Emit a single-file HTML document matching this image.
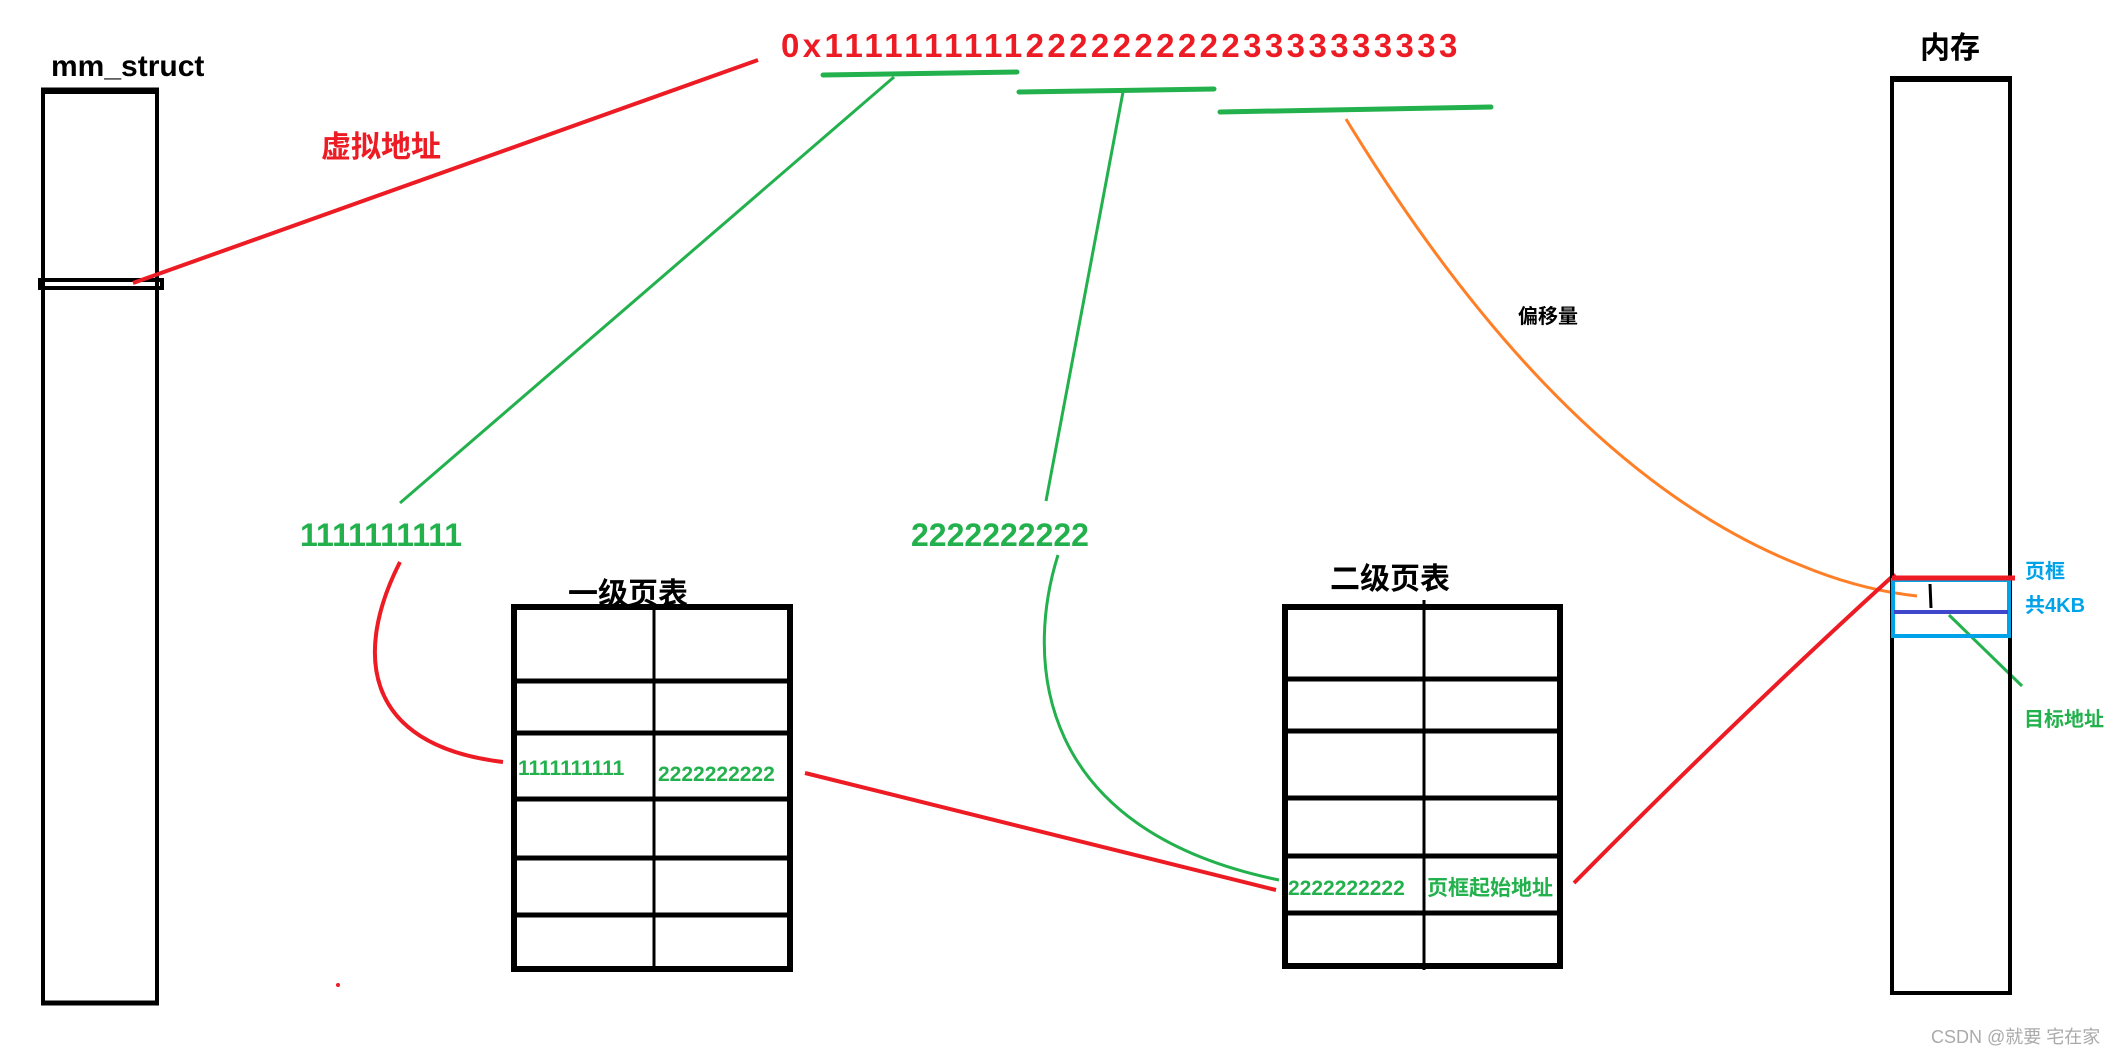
<!DOCTYPE html>
<html><head><meta charset="utf-8"><style>
html,body{margin:0;padding:0;background:#fff;}
svg{display:block;}
text{font-family:"Liberation Sans","Noto Sans CJK SC",sans-serif;font-weight:bold;}
</style></head><body>
<svg width="2122" height="1057" viewBox="0 0 2122 1057" xmlns="http://www.w3.org/2000/svg">
<!-- mm_struct -->
<text x="51" y="76" font-size="30" fill="#000">mm_struct</text>
<rect x="43" y="92" width="114" height="911" fill="none" stroke="#000" stroke-width="4"/>
<line x1="41" y1="90" x2="159" y2="90" stroke="#000" stroke-width="5"/>
<rect x="40" y="280" width="122" height="8" fill="none" stroke="#000" stroke-width="4"/>
<line x1="41" y1="1003" x2="159" y2="1003" stroke="#000" stroke-width="5"/>
<!-- red to address -->
<line x1="133" y1="283" x2="758" y2="60" stroke="#ed1c24" stroke-width="4"/>
<text x="321" y="157" font-size="30" fill="#ed1c24">虚拟地址</text>
<!-- address -->
<text x="781" y="57" font-size="33" fill="#ed1c24" letter-spacing="3.4">0x111111111122222222223333333333</text>
<g stroke="#22b14c" stroke-width="5" stroke-linecap="round">
<line x1="823" y1="75" x2="1017" y2="72"/>
<line x1="1019" y1="92" x2="1214" y2="89"/>
<line x1="1220" y1="112" x2="1491" y2="107"/>
</g>
<g stroke="#22b14c" stroke-width="3" fill="none">
<line x1="894" y1="77" x2="400" y2="503"/>
<line x1="1123" y1="92" x2="1046" y2="501"/>
<path d="M1058,555 C1025,660 1035,830 1279,880"/>
<line x1="1949" y1="615" x2="2022" y2="686"/>
</g>
<path d="M1346,119 Q1560,470 1800,565 Q1860,590 1917,596" stroke="#ff7f27" stroke-width="3" fill="none"/>
<text x="1518" y="323" font-size="20" fill="#000">偏移量</text>
<text x="300" y="546" font-size="32" fill="#22b14c">1111111111</text>
<text x="911" y="546" font-size="32" fill="#22b14c">2222222222</text>
<path d="M400,562 C355,650 360,745 503,762" stroke="#ed1c24" stroke-width="4" fill="none"/>
<!-- table 1 -->
<text x="568" y="604" font-size="30" fill="#000">一级页表</text>
<rect x="514" y="607" width="276" height="362" fill="none" stroke="#000" stroke-width="6"/>
<g stroke="#000" stroke-width="5">
<line x1="514" y1="681" x2="790" y2="681"/>
<line x1="514" y1="733" x2="790" y2="733"/>
<line x1="514" y1="799" x2="790" y2="799"/>
<line x1="514" y1="858" x2="790" y2="858"/>
<line x1="514" y1="915" x2="790" y2="915"/>
</g>
<line x1="654" y1="607" x2="654" y2="972" stroke="#000" stroke-width="3"/>
<text x="518" y="775" font-size="21" fill="#22b14c">1111111111</text>
<text x="658" y="781" font-size="21" fill="#22b14c">2222222222</text>
<line x1="805" y1="773" x2="1276" y2="890" stroke="#ed1c24" stroke-width="4"/>
<!-- table 2 -->
<text x="1330" y="589" font-size="30" fill="#000">二级页表</text>
<rect x="1285" y="607" width="275" height="359" fill="none" stroke="#000" stroke-width="6"/>
<g stroke="#000" stroke-width="5">
<line x1="1285" y1="679" x2="1560" y2="679"/>
<line x1="1285" y1="731" x2="1560" y2="731"/>
<line x1="1285" y1="798" x2="1560" y2="798"/>
<line x1="1285" y1="856" x2="1560" y2="856"/>
<line x1="1285" y1="913" x2="1560" y2="913"/>
</g>
<line x1="1424" y1="600" x2="1424" y2="970" stroke="#000" stroke-width="3"/>
<text x="1288" y="895" font-size="21" fill="#22b14c">2222222222</text>
<text x="1427" y="895" font-size="21" fill="#22b14c">页框起始地址</text>
<path d="M1574,883 Q1740,715 1895,574" stroke="#ed1c24" stroke-width="4" fill="none"/>
<!-- memory -->
<text x="1920" y="58" font-size="30" fill="#000">内存</text>
<rect x="1892" y="79" width="118" height="914" fill="none" stroke="#000" stroke-width="4"/>
<line x1="1890" y1="79" x2="2012" y2="79" stroke="#000" stroke-width="6"/>
<rect x="1893" y="580" width="116" height="56" fill="none" stroke="#00a2e8" stroke-width="4"/>
<line x1="1892" y1="578" x2="2015" y2="578" stroke="#ed1c24" stroke-width="5"/>
<line x1="1894" y1="612" x2="2008" y2="612" stroke="#3f48cc" stroke-width="4"/>
<line x1="1930" y1="584" x2="1931" y2="608" stroke="#000" stroke-width="3"/>
<text x="2025" y="578" font-size="20" fill="#00a2e8">页框</text>
<text x="2025" y="612" font-size="20" fill="#00a2e8">共4KB</text>
<text x="2024" y="726" font-size="20" fill="#22b14c">目标地址</text>
<circle cx="338" cy="985" r="2" fill="#ed1c24"/>
<text x="1931" y="1043" font-size="18" style="font-weight:normal" fill="#aaa">CSDN @就要 宅在家</text>
</svg>
</body></html>
